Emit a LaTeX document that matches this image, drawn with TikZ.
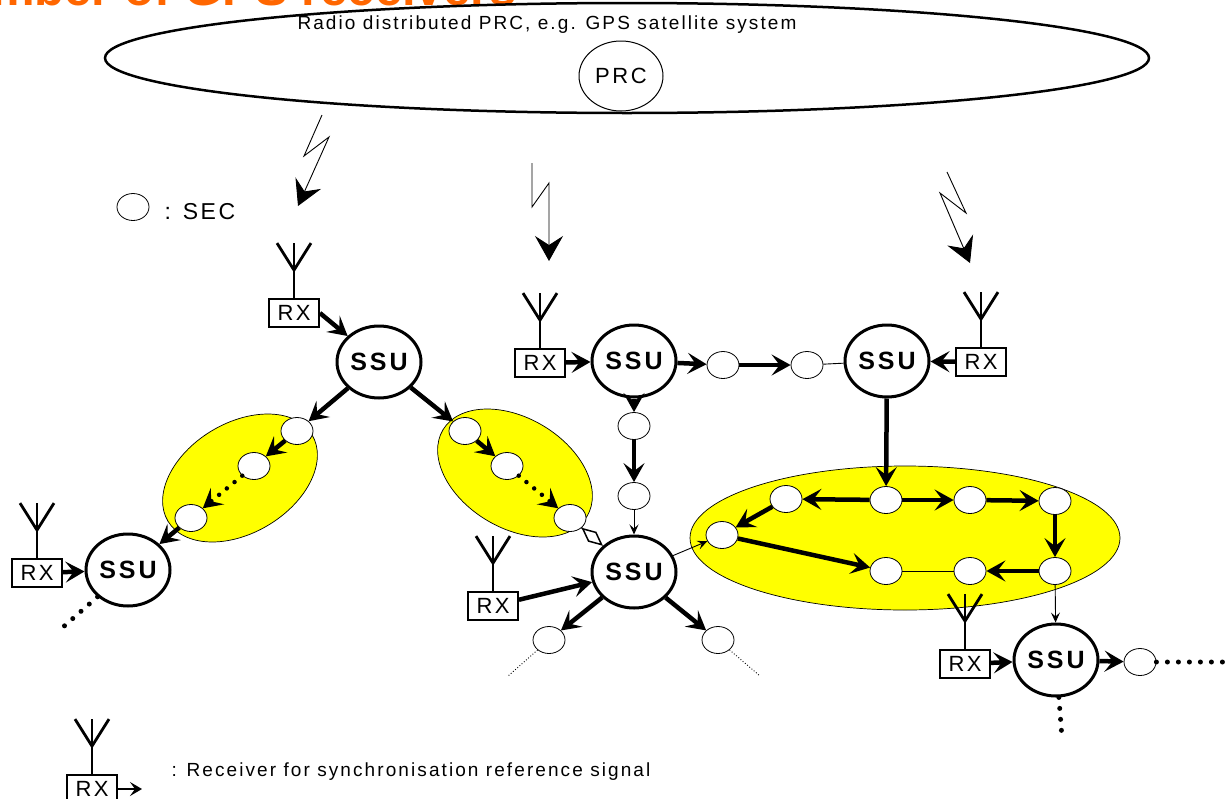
\documentclass[tikz,border=0pt]{standalone}
\usepackage{fontspec}
\setmainfont{Liberation Sans}
\newfontfamily\spaced[LetterSpace=11]{Liberation Sans}
\newfontfamily\wide[LetterSpace=12]{Liberation Sans}
\usetikzlibrary{calc, arrows.meta, shapes.geometric}
\definecolor{titleorange}{RGB}{255,102,0}
\definecolor{groupyellow}{RGB}{255,255,0}
\tikzset{
  ssu/.style={ellipse, draw, line width=3pt, fill=white, minimum width=84pt, minimum height=72pt, inner sep=0pt, font=\wide\bfseries\fontsize{25}{25}\selectfont},
  sec/.style={ellipse, draw, fill=white, line width=0.8pt, minimum width=32pt, minimum height=27pt, inner sep=0pt},
  rxbox/.style={draw, fill=white, line width=1.8pt, minimum width=50pt, minimum height=28pt, inner sep=0pt, font=\spaced\fontsize{22}{22}\selectfont},
  group/.style={ellipse, draw, fill=groupyellow, line width=0.7pt, inner sep=0pt},
  antenna/.style={line width=2.8pt},
  link/.style={line width=4.5pt, -{Stealth[length=19pt,width=21pt,inset=8pt]}},
  dotlink/.style={line width=4.5pt, line cap=round, dash pattern=on 0pt off 10pt, -{Stealth[length=19pt,width=21pt,inset=8pt]}},
  thinlink/.style={line width=0.9pt, -{Stealth[length=10pt,width=9pt,inset=4pt]}},
  plain/.style={line width=0.9pt},
  dots/.style={line width=5pt, line cap=round, dash pattern=on 0pt off 11pt},
  thindots/.style={line width=0.9pt, dotted},
  bolt/.style={line width=0.9pt, -{Stealth[length=25pt,width=28pt,inset=9pt]}},
  diamondlink/.style={line width=1.5pt, -{Diamond[open,length=28pt,width=13pt]}}
}
\begin{document}
\begin{tikzpicture}[x=1pt, y=-1pt]
\useasboundingbox (0,0) rectangle (1231,798);
\node[anchor=base east, inner sep=0pt, text=titleorange, font=\bfseries\fontsize{49}{49}\selectfont] (title) at (517,5) {Number of GPS receivers};
\node[ellipse, draw, line width=2.5pt, minimum width=1044pt, minimum height=110pt] (gps) at (627,58) {};
\node[font=\spaced\fontsize{19}{19}\selectfont] (gpstext) at (547,25) {Radio distributed PRC, e.g. GPS satellite system};
\node[ellipse, draw, line width=1pt, minimum width=84pt, minimum height=70pt, font=\wide\fontsize{22}{22}\selectfont] (prc) at (621,76) {PRC};

\draw[bolt] (322,115) -- (304,156) -- (329,137) -- (298,206);
\draw[bolt] (532,163) -- (532,207) -- (549,183) -- (549,261);
\draw[bolt] (947,172) -- (966,213) -- (940,193) -- (970,263);

\node[sec] (legsec) at (133,207) {};
\node[anchor=west, font=\spaced\fontsize{23}{23}\selectfont] (legsectext) at (161,212) {: SEC};

\node[group, minimum width=168pt, minimum height=110pt, rotate=31] (grpa) at (240,478) {};
\node[group, minimum width=168pt, minimum height=110pt, rotate=-31] (grpb) at (515,473) {};
\node[group, minimum width=430pt, minimum height=144pt] (grpc) at (905,538) {};

\node[ssu] (ssu1) at (379,362) {SSU};
\node[ssu] (ssu2) at (128,570) {SSU};
\node[ssu] (ssu3) at (634,361) {SSU};
\node[ssu] (ssu4) at (634,572) {SSU};
\node[ssu] (ssu5) at (887,361) {SSU};
\node[ssu] (ssu6) at (1056,660) {SSU};

\node[rxbox] (rx1) at (294,313) {RX};
\node[rxbox] (rx2) at (37,573) {RX};
\node[rxbox] (rx3) at (540,363) {RX};
\node[rxbox] (rx4) at (493,606) {RX};
\node[rxbox] (rx5) at (981,362) {RX};
\node[rxbox] (rx6) at (965,664) {RX};
\node[rxbox] (rx7) at (92,789) {RX};
\foreach \r in {rx1,rx2,rx3,rx4,rx5,rx6,rx7}{
  \draw[antenna] (\r.north) -- ++(0,-55);
  \draw[antenna] ($(\r.north)+(-17,-55)$) -- ($(\r.north)+(0,-28)$) -- ($(\r.north)+(17,-55)$);
}

\foreach \n/\x/\y in {a1/297/431, a2/254/466, a3/191/518, b1/465/431, b2/507/466, b3/570/518,
  c1/723/365, c2/807/365, d1/634/426, d2/634/496, e1/549/640, e2/718/640,
  f1/722/535, f2/786/499, f3/886/500, f4/970/500, f5/1055/501, f6/1055/571, f7/970/571, f8/886/571,
  g1/1140/662}
  \node[sec] (\n) at (\x,\y) {};

\coordinate (ssu2end) at (62,628);
\coordinate (e1end) at (508,676);
\coordinate (e2end) at (760,676);
\coordinate (g1end) at (1231,662);
\coordinate (ssu6end) at (1062,738);
\coordinate (rx7end) at (142,789);

\draw[link] (rx1.east) -- (ssu1);
\draw[link] (ssu1) -- (a1);
\draw[link] (a1) -- (a2);
\draw[dotlink] (a2) -- (a3);
\draw[link] (a3) -- (ssu2);
\draw[link] (rx2) -- (ssu2);
\draw[dots] (ssu2) -- (ssu2end);
\draw[link] (ssu1) -- (b1);
\draw[link] (b1) -- (b2);
\draw[dotlink] (b2) -- (b3);
\draw[diamondlink] (b3) -- (ssu4);

\draw[link] (rx3) -- (ssu3);
\draw[link] (ssu3) -- (c1);
\draw[link] (c1) -- (c2);
\draw[plain] (c2) -- (ssu5);
\draw[link] (rx5) -- (ssu5);
\draw[link] (ssu3) -- (d1);
\draw[link] (d1) -- (d2);
\draw[thinlink] (d2) -- (ssu4);
\draw[link] (rx4) -- (ssu4);
\draw[link] (ssu4) -- (e1);
\draw[link] (ssu4) -- (e2);
\draw[thindots] (e1) -- (e1end);
\draw[thindots] (e2) -- (e2end);
\draw[thinlink] (ssu4) -- (f1);

\draw[link] (ssu5) -- (f3);
\draw[link] (f3) -- (f2);
\draw[link] (f2) -- (f1);
\draw[link] (f1) -- (f8);
\draw[plain] (f8) -- (f7);
\draw[link] (f3) -- (f4);
\draw[link] (f4) -- (f5);
\draw[link] (f5) -- (f6);
\draw[link] (f6) -- (f7);
\draw[thinlink] (f6) -- (ssu6);

\draw[link] (rx6) -- (ssu6);
\draw[link] (ssu6) -- (g1);
\draw[dots] (g1) -- (g1end);
\draw[dots] (ssu6) -- (ssu6end);

\draw[line width=2.5pt, -{Stealth[length=12pt,width=14pt,inset=5pt]}] (rx7.east) -- (rx7end);
\node[anchor=west, font=\spaced\fontsize{19}{19}\selectfont] (legrxtext) at (168,772) {: Receiver for synchronisation reference signal};
\end{tikzpicture}
\end{document}
